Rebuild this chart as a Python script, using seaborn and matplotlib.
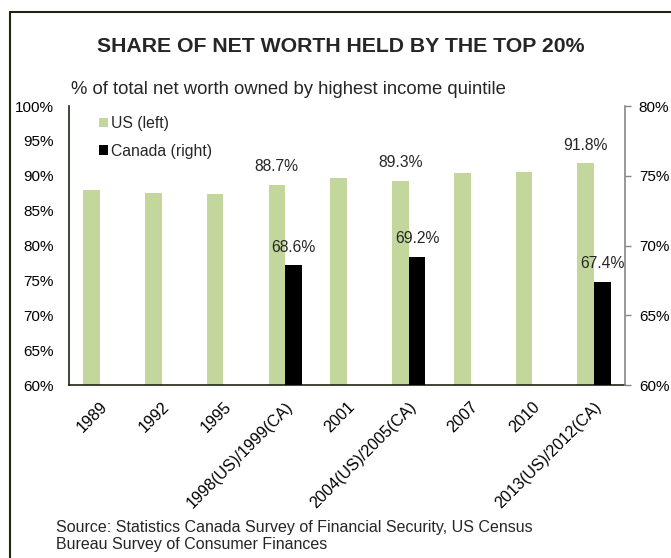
import matplotlib.pyplot as plt
import pandas as pd
import seaborn as sns
from matplotlib.lines import Line2D
from matplotlib.patches import Patch
from matplotlib.ticker import MultipleLocator, PercentFormatter


sns.set_theme(style="white")
plt.rcParams["font.family"] = ["Liberation Sans", "DejaVu Sans"]

# survey periods on the shared x axis
CATEGORIES = [
    "1989", "1992", "1995", "1998(US)/1999(CA)", "2001",
    "2004(US)/2005(CA)", "2007", "2010", "2013(US)/2012(CA)",
]
US_SHARE = [88.0, 87.5, 87.4, 88.7, 89.7, 89.3, 90.4, 90.5, 91.8]
CA_CATEGORIES = ["1998(US)/1999(CA)", "2004(US)/2005(CA)", "2013(US)/2012(CA)"]
CA_SHARE = [68.6, 69.2, 67.4]
# only the years that line up with a Canadian survey get a US value label
US_LABELLED = CA_CATEGORIES

SERIES = ["US (left)", "Canada (right)"]
COLORS = {"US (left)": "#c3d69b", "Canada (right)": "#000000"}

TITLE = "SHARE OF NET WORTH HELD BY THE TOP 20%"
SUBTITLE = "% of total net worth owned by highest income quintile"
SOURCE = ("Source: Statistics Canada Survey of Financial Security, US Census\n"
          "Bureau Survey of Consumer Finances")

DARK = "#1c2612"
GREY = "#868686"


def main() -> None:
    us_frame = pd.DataFrame({"period": CATEGORIES, "share": US_SHARE, "series": SERIES[0]})
    ca_frame = pd.DataFrame({"period": CA_CATEGORIES, "share": CA_SHARE, "series": SERIES[1]})

    fig = plt.figure(figsize=(6.71, 5.58), dpi=100)
    ax = fig.add_axes([0.1028, 0.310, 0.8286, 0.500])
    ax2 = ax.twinx()

    bar_kw = dict(x="period", y="share", hue="series", hue_order=SERIES, order=CATEGORIES,
                  palette=COLORS, width=0.54, dodge=True, saturation=1, linewidth=0,
                  legend=False)
    sns.barplot(data=us_frame, ax=ax, **bar_kw)
    sns.barplot(data=ca_frame, ax=ax2, **bar_kw)

    ax.set_ylim(60, 100)
    ax2.set_ylim(60, 80)
    ax.yaxis.set_major_locator(MultipleLocator(5))
    ax2.yaxis.set_major_locator(MultipleLocator(5))
    ax.yaxis.set_major_formatter(PercentFormatter(decimals=0))
    ax2.yaxis.set_major_formatter(PercentFormatter(decimals=0))
    ax.set_xlim(-0.5, len(CATEGORIES) - 0.5)

    ax.set_xticks(range(len(CATEGORIES)))
    ax.set_xticklabels(CATEGORIES, rotation=45, ha="right", rotation_mode="anchor")
    for a in (ax, ax2):
        a.set_xlabel("")
        a.set_ylabel("")

    ax.tick_params(axis="y", length=0, pad=11, labelsize=11, labelcolor="black")
    ax.tick_params(axis="x", length=0, pad=10, labelsize=11.6, labelcolor="black")
    ax2.tick_params(axis="y", direction="out", length=4, width=1, color=GREY, pad=6,
                    labelsize=11, labelcolor="black")

    ax.spines[["top", "right"]].set_visible(False)
    ax2.spines[["top", "left", "bottom"]].set_visible(False)
    for side in ("left", "bottom"):
        ax.spines[side].set_color(DARK)
        ax.spines[side].set_linewidth(1.2)
    ax2.spines["right"].set_color(GREY)
    ax2.spines["right"].set_linewidth(1.2)

    us_labels = [f"{v:.1f}%" if p in US_LABELLED else "" for p, v in zip(CATEGORIES, US_SHARE)]
    ax.bar_label(ax.containers[0], labels=us_labels, padding=7.5, fontsize=11.3)
    ax2.bar_label(ax2.containers[-1], fmt="{:.1f}%", padding=7.5, fontsize=11.3)

    handles = [Patch(facecolor=COLORS[s], edgecolor="none") for s in SERIES]
    ax2.legend(handles, SERIES, loc="upper left", bbox_to_anchor=(0.054, 0.964),
               frameon=False, fontsize=11.3, handlelength=0.55, handleheight=0.55,
               handletextpad=0.2, labelspacing=0.8, borderpad=0, borderaxespad=0)

    fig.text(0.508, 1 - 46 / 558, TITLE, ha="center", va="center",
             fontsize=15.3, fontweight="bold")
    fig.text(71 / 671, 1 - 89 / 558, SUBTITLE, ha="left", va="center", fontsize=13.3)
    fig.text(56 / 671, 1 - 520 / 558, SOURCE, ha="left", va="top", fontsize=11.5,
             linespacing=1.2)

    # outer frame: only top and left edges are drawn in the original
    fig.add_artist(Line2D([0.0149, 1.0], [0.9785, 0.9785], transform=fig.transFigure,
                          color=DARK, lw=1.5))
    fig.add_artist(Line2D([0.0149, 0.0149], [0.0, 0.9785], transform=fig.transFigure,
                          color=DARK, lw=1.5))

    fig.savefig("out.png", dpi=100, facecolor="white")
    plt.close(fig)


if __name__ == "__main__":
    main()
